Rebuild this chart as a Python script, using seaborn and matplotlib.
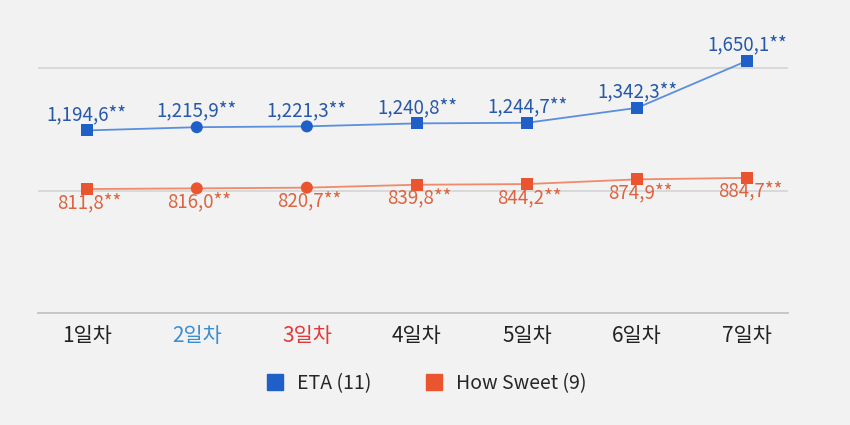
import seaborn as sns
import matplotlib.pyplot as plt
import pandas as pd

days = ["1일차", "2일차", "3일차", "4일차", "5일차", "6일차", "7일차"]
eta = [1194.6, 1215.9, 1221.3, 1240.8, 1244.7, 1342.3, 1650.1]
sweet = [811.8, 816.0, 820.7, 839.8, 844.2, 874.9, 884.7]
shapes = ["s", "o", "o", "s", "s", "s", "s"]
tick_colors = ["#222222", "#3a8fd0", "#e03b3b", "#222222", "#222222", "#222222", "#222222"]

sns.set_style("white")
plt.rcParams["font.family"] = ["Noto Sans CJK KR", "DejaVu Sans"]

blue = "#1f5fc8"
blue_line = "#5b8fdc"
blue_txt = "#2858a8"
red = "#ea5530"
red_line = "#f08a6c"
red_txt = "#dc6440"

df = pd.DataFrame({"x": range(len(days)), "eta": eta, "sweet": sweet, "shape": shapes})

fig = plt.figure(figsize=(8.5, 4.25), dpi=100, facecolor="#f2f2f2")
ax = fig.add_axes([0.045, 0.263, 0.882, 0.63])
ax.set_facecolor("#f2f2f2")

sns.lineplot(data=df, x="x", y="eta", color=blue_line, lw=1.3, ax=ax)
sns.lineplot(data=df, x="x", y="sweet", color=red_line, lw=1.3, ax=ax)
sns.scatterplot(data=df, x="x", y="eta", style="shape", markers={"s": "s", "o": "o"},
                color=blue, s=75, edgecolor="none", legend=False, ax=ax, zorder=3)
sns.scatterplot(data=df, x="x", y="sweet", style="shape", markers={"s": "s", "o": "o"},
                color=red, s=75, edgecolor="none", legend=False, ax=ax, zorder=3)


def fmt(v):
    return f"{v:,.1f}".replace(".", ",") + "**"


for i, v in enumerate(eta):
    ax.annotate(fmt(v), (i, v), xytext=(0, 4), textcoords="offset points",
                ha="center", va="bottom", color=blue_txt, fontsize=13.5, fontweight="medium")
for i, v in enumerate(sweet):
    ax.annotate(fmt(v), (i, v), xytext=(2, -2), textcoords="offset points",
                ha="center", va="top", color=red_txt, fontsize=13.5, fontweight="medium")

ax.set_xlim(-0.44, 6.37)
ax.set_ylim(0, 1750)
ax.set_yticks([0, 800, 1600])
ax.yaxis.grid(True, color="#d4d4d4", lw=1.2)
ax.set_yticklabels([])
ax.tick_params(left=False, bottom=False)
ax.set_xticks(range(len(days)))
ax.set_xticklabels(days, fontsize=15, fontweight="medium")
for lbl, c in zip(ax.get_xticklabels(), tick_colors):
    lbl.set_color(c)
ax.tick_params(axis="x", pad=5)
ax.set_xlabel("")
ax.set_ylabel("")
for side in ["top", "right", "left"]:
    ax.spines[side].set_visible(False)
ax.spines["bottom"].set_color("#c4c4c4")
ax.spines["bottom"].set_linewidth(1.3)

h1 = plt.Line2D([], [], marker="s", ls="none", color=blue, markersize=11)
h2 = plt.Line2D([], [], marker="s", ls="none", color=red, markersize=11)
fig.legend([h1, h2], ["ETA (11)", "How Sweet (9)"], loc="center", bbox_to_anchor=(0.495, 0.098),
           ncol=2, frameon=False, fontsize=14, handletextpad=0.15, columnspacing=2.2)

fig.savefig("out.png", dpi=100, facecolor=fig.get_facecolor())
